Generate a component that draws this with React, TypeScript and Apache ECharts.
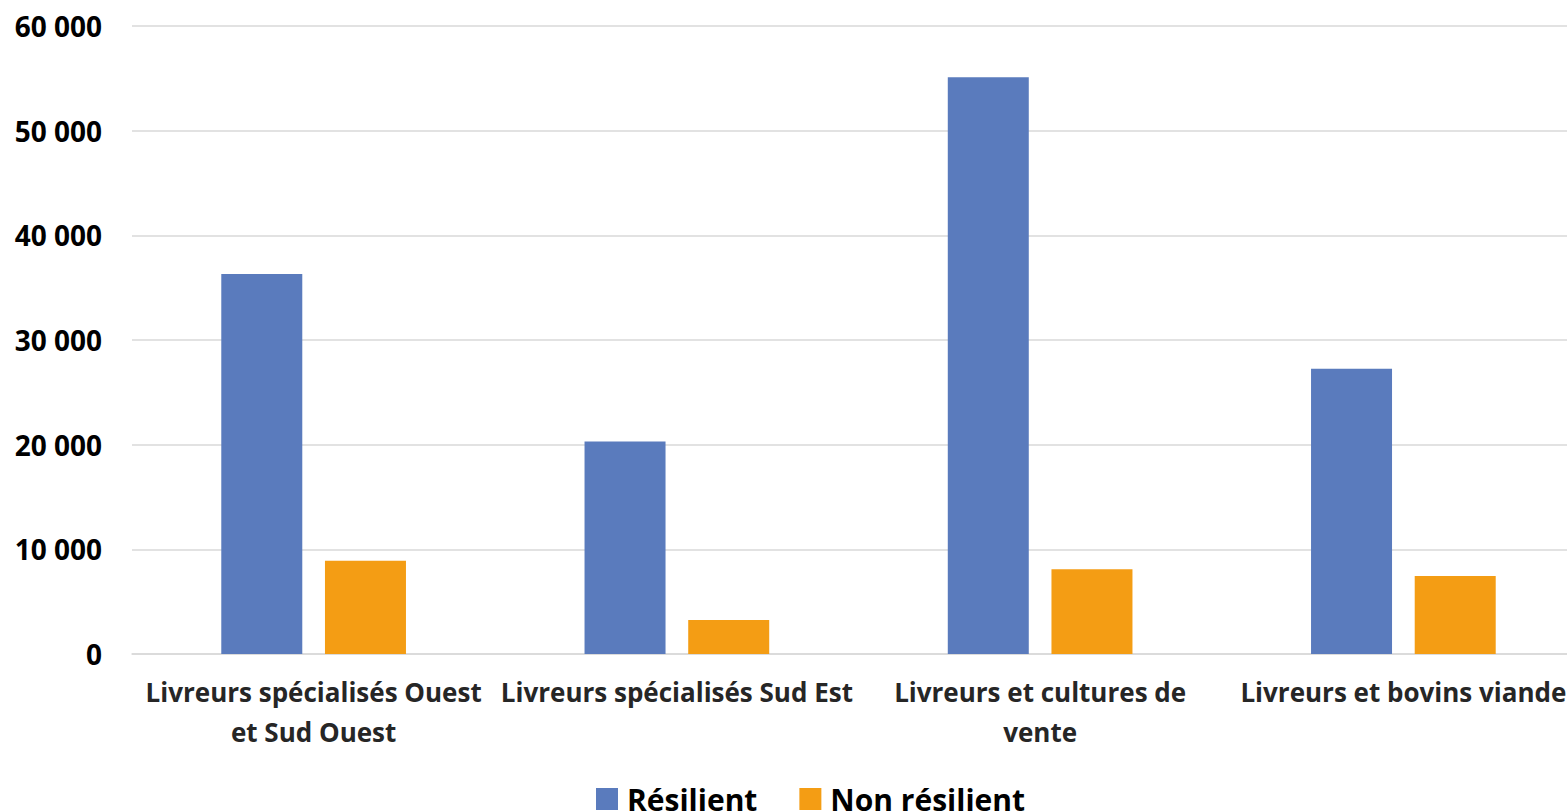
import React, { useEffect, useRef } from "react";
import * as echarts from "echarts";

const categories = [
  "Livreurs spécialisés Ouest\net Sud Ouest",
  "Livreurs spécialisés Sud Est",
  "Livreurs et cultures de\nvente",
  "Livreurs et bovins viande",
];
const resilient = [36300, 20300, 55100, 27250];
const nonResilient = [8900, 3250, 8100, 7450];
const seriesNames = ["Résilient", "Non résilient"];

const FONT = "'Open Sans', 'Noto Sans', sans-serif";

export default function App() {
  const ref = useRef<HTMLDivElement>(null);
  useEffect(() => {
    document.body.style.margin = "0";
    const chart = echarts.init(ref.current!, null, { renderer: "svg" });
    chart.setOption({
      animation: false,
      textStyle: { fontFamily: FONT },
      grid: { left: 132, right: 0, top: 26, bottom: 158, containLabel: false },
      legend: {
        top: 784,
        left: 596,
        padding: 0,
        itemWidth: 22,
        itemHeight: 22,
        itemGap: 42,
        icon: "rect",
        textStyle: {
          fontSize: 30,
          lineHeight: 26,
          fontWeight: "bold",
          color: "#000",
          fontFamily: FONT,
          padding: [0, 0, 0, 4],
        },
        data: seriesNames,
      },
      xAxis: {
        type: "category",
        data: categories,
        axisLine: { lineStyle: { color: "#d9d9d9", width: 1.5 } },
        axisTick: { show: false },
        axisLabel: {
          interval: 0,
          margin: 18,
          fontSize: 26,
          fontWeight: "bold",
          color: "#262626",
          lineHeight: 40,
          fontFamily: FONT,
        },
      },
      yAxis: {
        type: "value",
        min: 0,
        max: 60000,
        interval: 10000,
        axisLine: { show: false },
        axisTick: { show: false },
        splitLine: { lineStyle: { color: "#d9d9d9", width: 1.5 } },
        axisLabel: {
          margin: 30,
          fontSize: 28,
          fontWeight: "bold",
          color: "#000",
          fontFamily: FONT,
          formatter: (v: number) => v.toLocaleString("en-US").replace(/,/g, " "),
        },
      },
      series: [
        {
          name: seriesNames[0],
          type: "bar",
          data: resilient,
          barWidth: 81,
          barGap: "28%",
          itemStyle: { color: "#5A7BBD" },
        },
        {
          name: seriesNames[1],
          type: "bar",
          data: nonResilient,
          barWidth: 81,
          itemStyle: { color: "#F49D14" },
        },
      ],
    });
    return () => chart.dispose();
  }, []);
  return (
    <div style={{ width: 1567, height: 812, overflow: "hidden" }}>
      <div ref={ref} style={{ width: 1585, height: 812 }} />
    </div>
  );
}
